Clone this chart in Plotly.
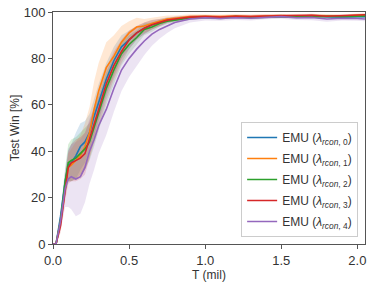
import plotly.graph_objects as go

t = [0.0, 0.02, 0.05, 0.08, 0.10, 0.12, 0.15, 0.18, 0.21, 0.24, 0.27, 0.30, 0.35, 0.40, 0.45, 0.50,
     0.55, 0.60, 0.65, 0.70, 0.75, 0.80, 0.90, 1.00, 1.10, 1.20, 1.30, 1.40, 1.50, 1.60,
     1.70, 1.80, 1.90, 2.00, 2.05]

blue = [0, 0, 12, 27, 34, 35, 38, 42, 44, 48, 55, 61, 71, 79, 85, 88, 91, 93, 94.5, 95.5, 96.5,
        97, 97.5, 97.8, 97.5, 98, 97.8, 98, 98.2, 97.8, 98.3, 98, 97.8, 98, 98]
orange = [0, 0, 10, 25, 33, 34, 36, 38, 42, 48, 58, 66, 76, 81, 87, 91, 93.5, 94, 95, 96, 97,
          97.3, 98, 98.2, 98, 98.3, 98, 98.3, 98.5, 98.2, 98.5, 98.4, 98.3, 98.6, 98.7]
green = [0, 0, 10, 27, 35, 36, 37, 39, 41, 44, 50, 56, 67, 75, 82, 86, 89, 92.5, 93.5, 95, 96,
         96.5, 97.5, 97.8, 97.5, 98, 97.6, 97.8, 98, 98, 97.8, 98.2, 98, 98.3, 98.3]
red = [0, 0, 8, 24, 33, 35, 36, 37, 39, 45, 52, 58, 69, 77, 83, 88, 91, 93, 94.5, 95.5, 96.5,
       97, 97.8, 98, 97.8, 98.2, 98, 98.3, 98.3, 98.5, 98.6, 98.2, 98.5, 98.7, 98.8]
purple = [0, 0, 10, 24, 28, 29, 28, 29, 33, 40, 45, 51, 58, 67, 75, 80, 84, 87.5, 90.5, 92.5, 94,
          95.5, 97, 97.5, 97.2, 97.5, 97.3, 97.8, 98, 97.5, 97.6, 97, 97.3, 97.2, 97]

# band half-widths (std)
blue_sd = [0, 0, 3, 5, 7, 8, 10, 10, 9, 8, 8, 8, 7, 6, 5, 4, 3, 2.5, 2, 1.5, 1.2, 1, 0.8, 0.7,
           0.7, 0.6, 0.7, 0.6, 0.6, 0.7, 0.6, 0.6, 0.7, 0.6, 0.6]
orange_sd = [0, 0, 3, 5, 6, 7, 8, 9, 10, 11, 12, 12, 11, 9, 7, 5, 4, 3, 2.5, 2, 1.5, 1.2, 1,
             0.8, 0.8, 0.7, 0.7, 0.7, 0.6, 0.7, 0.6, 0.6, 0.6, 0.6, 0.6]
green_sd = [0, 0, 3, 6, 8, 9, 9, 9, 9, 8, 8, 8, 7, 6, 5, 4, 3, 2.5, 2, 1.5, 1.2, 1, 0.8, 0.7,
            0.7, 0.6, 0.7, 0.6, 0.6, 0.6, 0.6, 0.6, 0.6, 0.6, 0.6]
red_sd = [0, 0, 3, 5, 7, 8, 9, 9, 9, 8, 8, 8, 7, 6, 5, 4, 3, 2.5, 2, 1.5, 1.2, 1, 0.8, 0.7,
          0.7, 0.6, 0.7, 0.6, 0.6, 0.6, 0.6, 0.6, 0.6, 0.6, 0.6]
purple_sd = [0, 0, 4, 8, 12, 14, 16, 16, 15, 14, 13, 12, 11, 10, 9, 8, 7, 6, 5, 4, 3, 2.5, 1.5,
             1.2, 1, 1, 1, 0.9, 0.9, 1, 1.2, 1.2, 1, 1, 1]

labels = ["0", "1", "2", "3", "4"]
colors = ["#1f77b4", "#ff7f0e", "#2ca02c", "#d62728", "#9467bd"]
fills = ["rgba(31,119,180,0.18)", "rgba(255,127,14,0.18)", "rgba(44,160,44,0.18)",
         "rgba(214,39,40,0.18)", "rgba(148,103,189,0.18)"]
series = [blue, orange, green, red, purple]
sds = [blue_sd, orange_sd, green_sd, red_sd, purple_sd]

fig = go.Figure()
for y, sd, fc in zip(series, sds, fills):
    up = [min(v + s, 100) for v, s in zip(y, sd)]
    lo = [max(v - s, 0) for v, s in zip(y, sd)]
    fig.add_trace(go.Scatter(x=t + t[::-1], y=up + lo[::-1], fill="toself", fillcolor=fc,
                             line=dict(width=0), mode="lines", showlegend=False,
                             hoverinfo="skip"))
for y, c, lab in zip(series, colors, labels):
    fig.add_trace(go.Scatter(x=t, y=y, mode="lines", line=dict(color=c, width=1.6),
                             legendgroup=lab,
                             name=f"EMU (<i>λ<sub>rcon</sub></i><sub>, {lab}</sub>)"))

axis_common = dict(showline=True, linecolor="#555", linewidth=1, mirror=True,
                   ticks="outside", ticklen=4, tickcolor="#555", showgrid=False,
                   zeroline=False, tickfont=dict(size=13, color="#333"),
                   title_font=dict(size=12, color="#333"))
fig.update_layout(
    width=374, height=288,
    margin=dict(l=53, r=9, t=12, b=44, autoexpand=False),
    paper_bgcolor="white", plot_bgcolor="white",
    font=dict(family="Liberation Sans, Arial", color="#333", size=12),
    xaxis=dict(range=[0, 2.05], tickvals=[0, 0.5, 1.0, 1.5, 2.0],
               ticktext=["0.0", "0.5", "1.0", "1.5", "2.0"], title=dict(text="T (mil)", standoff=2),
               **axis_common),
    yaxis=dict(range=[0, 100], tickvals=[0, 20, 40, 60, 80, 100],
               title=dict(text="Test Win [%]", standoff=1), **axis_common),
    legend=dict(x=0.978, y=0.03, xanchor="right", yanchor="bottom", bgcolor="white",
                bordercolor="#ccc", borderwidth=1, font=dict(size=12, color="#333"),
                itemwidth=30, tracegroupgap=2),
)
fig.write_html("out.html", config={"displayModeBar": False},
               post_script="document.body.style.margin='0';")
